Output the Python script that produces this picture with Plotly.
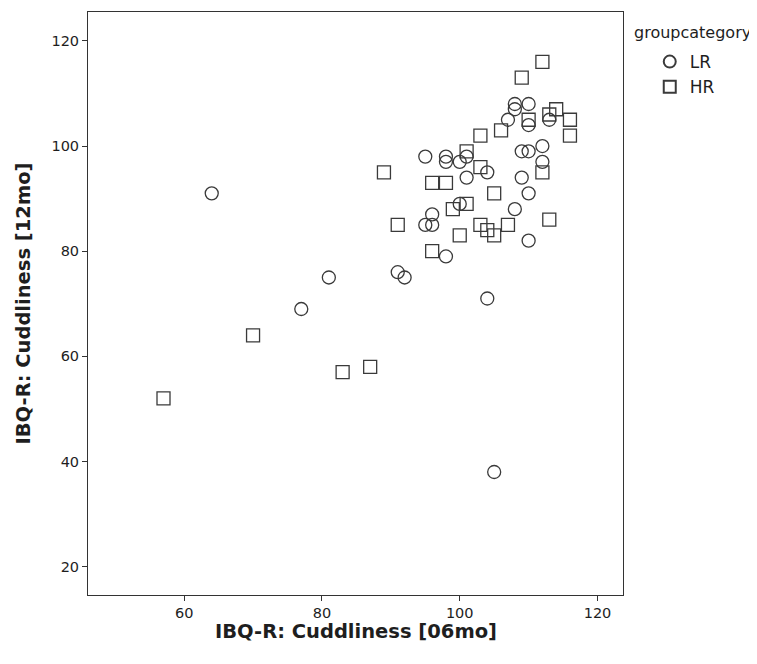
import plotly.graph_objects as go

# LR group (circles)
lr_x = [64, 77, 81, 91, 92, 98, 104, 105, 95, 98, 98, 100, 101, 101, 104, 95, 96, 96,
        100, 107, 108, 108, 110, 110, 113, 109, 110, 112, 112, 109, 110, 108, 110]
lr_y = [91, 69, 75, 76, 75, 79, 71, 38, 98, 98, 97, 97, 98, 94, 95, 85, 85, 87,
        89, 105, 108, 107, 108, 104, 105, 99, 99, 100, 97, 94, 91, 88, 82]

# HR group (squares)
hr_x = [57, 70, 83, 87, 89, 91, 96, 98, 96, 99, 101, 100, 101, 103, 103, 103, 104, 105,
        105, 107, 106, 109, 112, 110, 113, 114, 116, 116, 112, 113]
hr_y = [52, 64, 57, 58, 95, 85, 93, 93, 80, 88, 89, 83, 99, 96, 102, 85, 84, 83,
        91, 85, 103, 113, 116, 105, 106, 107, 105, 102, 95, 86]

x_ticks = [60, 80, 100, 120]
y_ticks = [20, 40, 60, 80, 100, 120]

line_col = "#3a3a3a"
txt_col = "#1e1e1e"
fnt = "DejaVu Sans"

fig = go.Figure()
fig.add_trace(go.Scatter(
    x=lr_x, y=lr_y, mode="markers", name="LR",
    marker=dict(symbol="circle-open", size=13, color=line_col, line=dict(width=1.3, color=line_col)),
))
fig.add_trace(go.Scatter(
    x=hr_x, y=hr_y, mode="markers", name="HR",
    marker=dict(symbol="square-open", size=13, color=line_col, line=dict(width=1.3, color=line_col)),
))

# page has an 8px body margin; figure sized so the plot box lands where the reference has it
fig.update_layout(
    width=749, height=656,
    margin=dict(l=80, r=134, t=4, b=69),
    paper_bgcolor="white", plot_bgcolor="white",
    font=dict(family=fnt, color=txt_col, size=14),
    showlegend=True,
    legend=dict(
        x=1.05, y=0.945, xanchor="left", yanchor="top",
        font=dict(size=17, family=fnt, color=txt_col),
        itemsizing="constant", tracegroupgap=0,
        bgcolor="rgba(0,0,0,0)",
    ),
    annotations=[
        dict(
            text="groupcategory", xref="paper", yref="paper", x=1.0168, y=0.964,
            xanchor="left", yanchor="middle", showarrow=False,
            font=dict(size=16, family=fnt, color=txt_col),
        ),
        dict(
            text="<b>IBQ-R: Cuddliness [06mo]</b>", xref="paper", yref="paper", x=0.5, y=-0.063,
            xanchor="center", yanchor="middle", showarrow=False,
            font=dict(size=19.5, family=fnt, color=txt_col),
        ),
    ],
    xaxis=dict(
        range=[46.04, 123.7], tickvals=x_ticks, ticktext=[str(v) for v in x_ticks],
        showgrid=False, zeroline=False,
        showline=True, linecolor="#333", linewidth=1, mirror=True,
        ticks="outside", ticklen=5, tickcolor="#333", tickwidth=1,
        tickfont=dict(size=14.5, family=fnt, color=txt_col),
    ),
    yaxis=dict(
        range=[14.6, 125.5], tickvals=y_ticks, ticktext=[str(v) for v in y_ticks],
        showgrid=False, zeroline=False,
        showline=True, linecolor="#333", linewidth=1, mirror=True,
        ticks="outside", ticklen=5, tickcolor="#333", tickwidth=1,
        tickfont=dict(size=14.5, family=fnt, color=txt_col),
        title=dict(text="<b>IBQ-R: Cuddliness [12mo]</b>", font=dict(size=19.5, family=fnt, color=txt_col), standoff=15),
    ),
)

fig.write_html("out.html")
